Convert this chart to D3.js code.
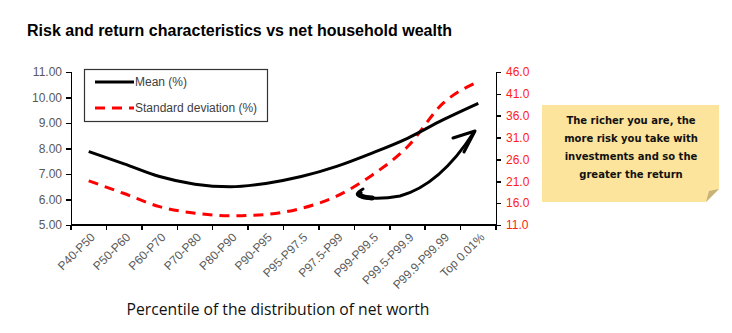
<!DOCTYPE html>
<html lang="en">
<head>
  <meta charset="UTF-8">
  <title>Risk and return vs net household wealth</title>
  <style>
    body { margin: 0; background: #fff; }
    svg { font-family: "Liberation Sans", Arial, sans-serif; }
    .axis path, .axis line { fill: none; stroke: #000; stroke-width: 1.5; shape-rendering: crispEdges; }
    .axis text { font-size: 12px; fill: #595959; }
    .axis.right text { fill: #ff2020; }
    .note text { font-family: "DejaVu Sans", sans-serif; font-size: 10px; font-weight: bold; fill: #111; }
  </style>
</head>
<body>
  <svg class="chart" width="732" height="333"></svg>
  <script src="https://cdn.jsdelivr.net/npm/d3@7"></script>
  <script>
    var categories = ["P40-P50", "P50-P60", "P60-P70", "P70-P80", "P80-P90", "P90-P95",
      "P95-P97.5", "P97.5-P99", "P99-P99.5", "P99.5-P99.9", "P99.9-P99.99", "Top 0.01%"];
    var meanValues = [7.88, 7.4, 6.9, 6.6, 6.5, 6.63, 6.9, 7.3, 7.82, 8.4, 9.12, 9.77];
    var sdValues = [21.1, 18.2, 15.2, 13.7, 13.1, 13.4, 14.8, 17.6, 22.4, 28.9, 38.8, 43.8];
    var leftTicks = [5, 6, 7, 8, 9, 10, 11];
    var rightTicks = [11, 16, 21, 26, 31, 36, 41, 46];
    var noteLines = ["The richer you are, the", "more risk you take with",
      "investments and so the", "greater the return"];

    var svg = d3.select(".chart");
    var plotLeft = 71, plotRight = 496, plotTop = 72, plotBottom = 225;

    var x = d3.scaleBand().domain(categories).range([plotLeft, plotRight]);
    var yL = d3.scaleLinear().domain([5, 11]).range([plotBottom, plotTop]);
    var yR = d3.scaleLinear().domain([11, 46]).range([plotBottom, plotTop]);

    svg.append("text")
      .attr("x", 27).attr("y", 36)
      .style("font-size", "16px").style("font-weight", "bold")
      .text("Risk and return characteristics vs net household wealth");

    svg.append("g").attr("class", "axis left")
      .attr("transform", "translate(" + plotLeft + ",0)")
      .call(d3.axisLeft(yL).tickValues(leftTicks).tickFormat(d3.format(".2f")).tickSize(5).tickPadding(4));

    svg.append("g").attr("class", "axis right")
      .attr("transform", "translate(" + plotRight + ",0)")
      .call(d3.axisRight(yR).tickValues(rightTicks).tickFormat(d3.format(".1f")).tickSize(5).tickPadding(5));

    // category ticks sit on band edges
    var xAxis = svg.append("g").attr("class", "axis bottom")
      .attr("transform", "translate(0," + plotBottom + ")");
    xAxis.append("line").attr("x1", plotLeft).attr("x2", plotRight).attr("y1", 0).attr("y2", 0);
    xAxis.selectAll(".tk").data(d3.range(categories.length + 1)).enter().append("line")
      .attr("x1", function(i) { return plotLeft + i * x.bandwidth(); })
      .attr("x2", function(i) { return plotLeft + i * x.bandwidth(); })
      .attr("y1", 0).attr("y2", 5);
    xAxis.selectAll(".lbl").data(categories).enter().append("text")
      .attr("text-anchor", "end")
      .attr("transform", function(d) {
        return "translate(" + (x(d) + x.bandwidth() / 2 + 4) + ",10) rotate(-45)";
      })
      .attr("dy", "0.35em")
      .text(function(d) { return d; });

    var cx = function(d, i) { return x(categories[i]) + x.bandwidth() / 2; };

    svg.append("path").datum(sdValues)
      .attr("fill", "none").attr("stroke", "#ff0000").attr("stroke-width", 3)
      .attr("stroke-dasharray", "10,7")
      .attr("d", d3.line().x(cx).y(function(d) { return yR(d); }).curve(d3.curveMonotoneX));

    svg.append("path").datum(meanValues)
      .attr("fill", "none").attr("stroke", "#000").attr("stroke-width", 3)
      .attr("d", d3.line().x(cx).y(function(d) { return yL(d); }).curve(d3.curveMonotoneX));

    // legend
    var lg = svg.append("g");
    lg.append("rect").attr("x", 84.5).attr("y", 69.5).attr("width", 183).attr("height", 52)
      .attr("fill", "#fff").attr("stroke", "#333").attr("stroke-width", 1.2);
    lg.append("line").attr("x1", 95).attr("x2", 134).attr("y1", 82).attr("y2", 82)
      .attr("stroke", "#000").attr("stroke-width", 3);
    lg.append("line").attr("x1", 95).attr("x2", 134).attr("y1", 108).attr("y2", 108)
      .attr("stroke", "#ff0000").attr("stroke-width", 3).attr("stroke-dasharray", "10,7");
    lg.append("text").attr("x", 135).attr("y", 86).style("font-size", "12px").attr("fill", "#404040").text("Mean (%)");
    lg.append("text").attr("x", 135).attr("y", 112).style("font-size", "12px").attr("fill", "#404040").text("Standard deviation (%)");

    // hand-drawn arrow
    var arrow = svg.append("g").attr("fill", "none").attr("stroke", "#000").attr("stroke-linecap", "round");
    arrow.append("path")
      .attr("d", "M363,189 Q352,195 362,197 Q378,200 400,196 Q440,185 474,132")
      .attr("stroke-width", 3);
    arrow.append("path")
      .attr("d", "M360,193 Q358,197 372,198")
      .attr("stroke-width", 5);
    arrow.append("path")
      .attr("d", "M453,138 L475,131 L464,152")
      .attr("stroke-width", 3).attr("stroke-linejoin", "round");

    // sticky note
    var note = svg.append("g").attr("class", "note");
    note.append("path")
      .attr("d", "M542,105 L719,105 L719,189 L706,202 L542,202 Z")
      .attr("fill", "#fce49c");
    note.append("path")
      .attr("d", "M719,189 L706,202 L709,191 Z")
      .attr("fill", "#c9b27a");
    note.selectAll("text").data(noteLines).enter().append("text")
      .attr("x", 631)
      .attr("y", function(d, i) { return 124 + i * 18; })
      .attr("text-anchor", "middle")
      .text(function(d) { return d; });

    svg.append("text")
      .attr("x", 278).attr("y", 315)
      .attr("text-anchor", "middle")
      .style("font-family", "'Open Sans', sans-serif")
      .style("font-size", "15.7px").attr("fill", "#111")
      .text("Percentile of the distribution of net worth");
  </script>
</body>
</html>
